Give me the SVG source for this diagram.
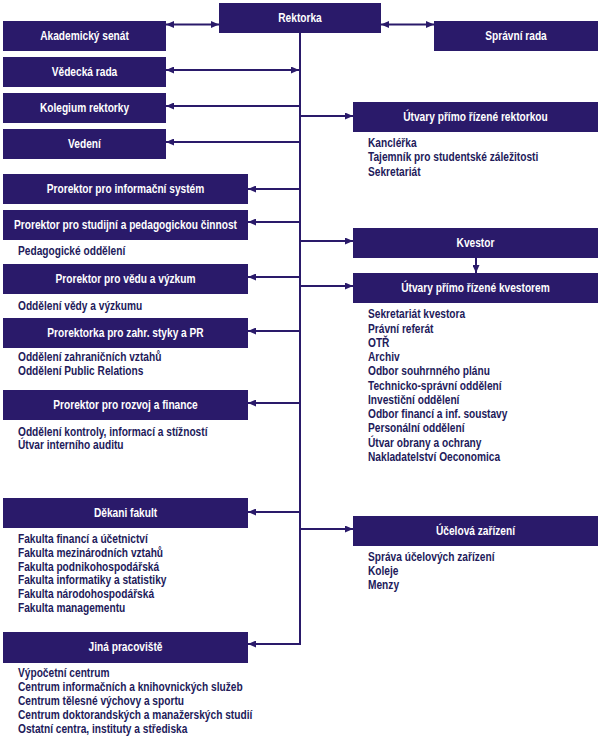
<svg xmlns="http://www.w3.org/2000/svg" width="602" height="741" viewBox="0 0 602 741">
<defs>
<marker id="ah" markerUnits="userSpaceOnUse" markerWidth="8" markerHeight="7" refX="8" refY="3.5" orient="auto-start-reverse">
<path d="M0,0 L8,3.5 L0,7 z" fill="#2a1a6a"/>
</marker>
<style>
.box{fill:#2a1a6a}
.bt{fill:#ffffff;font-family:"Liberation Sans",Arial,sans-serif;font-weight:bold;font-size:12.4px;text-anchor:middle}
.lt{fill:#221a5a;font-family:"Liberation Sans",Arial,sans-serif;font-weight:bold;font-size:12.4px}
.c{stroke:#2a1a6a;stroke-width:2;fill:none}
.ca{stroke:#2a1a6a;stroke-width:2;fill:none;marker-end:url(#ah)}
.cd{stroke:#2a1a6a;stroke-width:2;fill:none;marker-end:url(#ah);marker-start:url(#ah)}
</style>
</defs>
<rect width="602" height="741" fill="#ffffff"/>
<g id="connectors">
<path class="c" d="M300,33 V644 H301"/>
<path class="cd" d="M166,24.5 H219"/>
<path class="cd" d="M381,24.5 H434"/>
<path class="cd" d="M166,70 H299"/>
<path class="ca" d="M300,106 H166"/>
<path class="ca" d="M300,142 H166"/>
<path class="ca" d="M300,116 H353"/>
<path class="ca" d="M300,189 H248"/>
<path class="ca" d="M300,222 H248"/>
<path class="ca" d="M300,277 H248"/>
<path class="ca" d="M300,331 H248"/>
<path class="ca" d="M300,403 H248"/>
<path class="ca" d="M300,512 H248"/>
<path class="ca" d="M301,644 H248"/>
<path class="ca" d="M300,241 H353"/>
<path class="ca" d="M300,286 H353"/>
<path class="ca" d="M300,529 H353"/>
<path class="ca" d="M476,258 V273"/>
</g>
<g id="rektorka"><rect class="box" x="219" y="3" width="162" height="30"/><text class="bt" x="0" y="22" transform="translate(300,0) scale(0.82,1)">Rektorka</text></g>
<g id="akademicky-senat"><rect class="box" x="3" y="21" width="163" height="30"/><text class="bt" x="0" y="40" transform="translate(84.5,0) scale(0.82,1)">Akademický senát</text></g>
<g id="vedecka-rada"><rect class="box" x="3" y="57" width="163" height="30"/><text class="bt" x="0" y="76" transform="translate(84.5,0) scale(0.82,1)">Vědecká rada</text></g>
<g id="kolegium"><rect class="box" x="3" y="93" width="163" height="30"/><text class="bt" x="0" y="112" transform="translate(84.5,0) scale(0.82,1)">Kolegium rektorky</text></g>
<g id="vedeni"><rect class="box" x="3" y="129" width="163" height="30"/><text class="bt" x="0" y="148" transform="translate(84.5,0) scale(0.82,1)">Vedení</text></g>
<g id="spravni-rada"><rect class="box" x="434" y="21" width="164" height="30"/><text class="bt" x="0" y="40" transform="translate(516,0) scale(0.82,1)">Správní rada</text></g>
<g id="utvary-rektorka"><rect class="box" x="353" y="102" width="245" height="30"/><text class="bt" x="0" y="121" transform="translate(475.5,0) scale(0.82,1)">Útvary přímo řízené rektorkou</text>
<g transform="translate(368,0) scale(0.82,1)">
<text class="lt" x="0" y="147">Kancléřka</text>
<text class="lt" x="0" y="161.3">Tajemník pro studentské záležitosti</text>
<text class="lt" x="0" y="175.6">Sekretariát</text></g></g>
<g id="prorektor-is"><rect class="box" x="3" y="174" width="245" height="30"/><text class="bt" x="0" y="193" transform="translate(125.5,0) scale(0.82,1)">Prorektor pro informační systém</text></g>
<g id="prorektor-studium"><rect class="box" x="3" y="210" width="245" height="30"/><text class="bt" x="0" y="229" transform="translate(125.5,0) scale(0.82,1)">Prorektor pro studijní a pedagogickou činnost</text>
<text class="lt" x="0" y="255" transform="translate(18,0) scale(0.82,1)">Pedagogické oddělení</text></g>
<g id="prorektor-veda"><rect class="box" x="3" y="264" width="245" height="30"/><text class="bt" x="0" y="283" transform="translate(125.5,0) scale(0.82,1)">Prorektor pro vědu a výzkum</text>
<text class="lt" x="0" y="310" transform="translate(18,0) scale(0.82,1)">Oddělení vědy a výzkumu</text></g>
<g id="prorektorka-zahr"><rect class="box" x="3" y="318" width="245" height="30"/><text class="bt" x="0" y="337" transform="translate(125.5,0) scale(0.82,1)">Prorektorka pro zahr. styky a PR</text>
<g transform="translate(18,0) scale(0.82,1)">
<text class="lt" x="0" y="361">Oddělení zahraničních vztahů</text>
<text class="lt" x="0" y="375.5">Oddělení Public Relations</text></g></g>
<g id="prorektor-rozvoj"><rect class="box" x="3" y="390" width="245" height="30"/><text class="bt" x="0" y="409" transform="translate(125.5,0) scale(0.82,1)">Prorektor pro rozvoj a finance</text>
<g transform="translate(18,0) scale(0.82,1)">
<text class="lt" x="0" y="435.7">Oddělení kontroly, informací a stížností</text>
<text class="lt" x="0" y="449.5">Útvar interního auditu</text></g></g>
<g id="dekani"><rect class="box" x="3" y="498" width="245" height="30"/><text class="bt" x="0" y="517" transform="translate(125.5,0) scale(0.82,1)">Děkani fakult</text>
<g transform="translate(18,0) scale(0.82,1)">
<text class="lt" x="0" y="543">Fakulta financí a účetnictví</text>
<text class="lt" x="0" y="556.8">Fakulta mezinárodních vztahů</text>
<text class="lt" x="0" y="570.6">Fakulta podnikohospodářská</text>
<text class="lt" x="0" y="584.4">Fakulta informatiky a statistiky</text>
<text class="lt" x="0" y="598.2">Fakulta národohospodářská</text>
<text class="lt" x="0" y="612">Fakulta managementu</text></g></g>
<g id="jina-pracoviste"><rect class="box" x="3" y="632" width="245" height="31"/><text class="bt" x="0" y="651.5" transform="translate(125.5,0) scale(0.82,1)">Jiná pracoviště</text>
<g transform="translate(18,0) scale(0.82,1)">
<text class="lt" x="0" y="677">Výpočetní centrum</text>
<text class="lt" x="0" y="691">Centrum informačních a knihovnických služeb</text>
<text class="lt" x="0" y="705">Centrum tělesné výchovy a sportu</text>
<text class="lt" x="0" y="719">Centrum doktorandských a manažerských studií</text>
<text class="lt" x="0" y="733">Ostatní centra, instituty a střediska</text></g></g>
<g id="kvestor"><rect class="box" x="353" y="228" width="245" height="30"/><text class="bt" x="0" y="247" transform="translate(475.5,0) scale(0.82,1)">Kvestor</text></g>
<g id="utvary-kvestor"><rect class="box" x="353" y="273" width="245" height="30"/><text class="bt" x="0" y="292" transform="translate(475.5,0) scale(0.82,1)">Útvary přímo řízené kvestorem</text>
<g transform="translate(368,0) scale(0.82,1)">
<text class="lt" x="0" y="318.3">Sekretariát kvestora</text>
<text class="lt" x="0" y="332.6">Právní referát</text>
<text class="lt" x="0" y="346.8">OTŘ</text>
<text class="lt" x="0" y="361.1">Archiv</text>
<text class="lt" x="0" y="375.4">Odbor souhrnného plánu</text>
<text class="lt" x="0" y="389.6">Technicko-správní oddělení</text>
<text class="lt" x="0" y="403.9">Investiční oddělení</text>
<text class="lt" x="0" y="418.2">Odbor financí a inf. soustavy</text>
<text class="lt" x="0" y="432.4">Personální oddělení</text>
<text class="lt" x="0" y="446.7">Útvar obrany a ochrany</text>
<text class="lt" x="0" y="461">Nakladatelství Oeconomica</text></g></g>
<g id="ucelova-zarizeni"><rect class="box" x="353" y="516" width="245" height="30"/><text class="bt" x="0" y="535" transform="translate(475.5,0) scale(0.82,1)">Účelová zařízení</text>
<g transform="translate(368,0) scale(0.82,1)">
<text class="lt" x="0" y="561">Správa účelových zařízení</text>
<text class="lt" x="0" y="575">Koleje</text>
<text class="lt" x="0" y="589">Menzy</text></g></g>
</svg>
